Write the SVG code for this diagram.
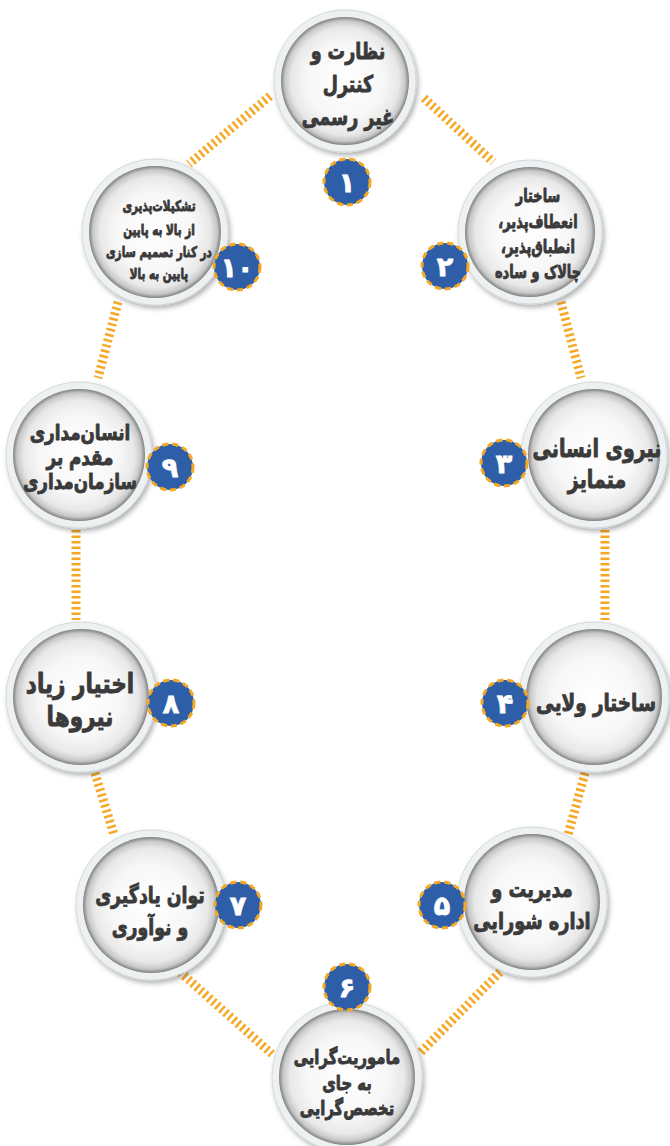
<svg xmlns="http://www.w3.org/2000/svg" width="670" height="1146" viewBox="0 0 670 1146">
<defs>
<radialGradient id="g" cx="0.5" cy="0.5" r="0.5">
<stop offset="0" stop-color="#ffffff"/>
<stop offset="0.6" stop-color="#f7f7f7"/>
<stop offset="0.84" stop-color="#e8e8e8"/>
<stop offset="0.94" stop-color="#c8c8c8"/>
<stop offset="1" stop-color="#808080"/>
</radialGradient>
<filter id="sh" x="-20%" y="-20%" width="140%" height="140%">
<feDropShadow dx="2" dy="3" stdDeviation="2.5" flood-color="#000" flood-opacity="0.3"/>
</filter>
<style>
.ring{fill:#eef1f2;stroke:#d3d8da;stroke-width:1;filter:url(#sh)}
.in{fill:url(#g)}
.t{font-family:"DejaVu Sans",sans-serif;font-weight:bold;fill:#3a3a3a;stroke:#3a3a3a;stroke-width:0.9;stroke-linejoin:round;text-anchor:middle}
.b{fill:#2e5ea8;stroke:#f7a823;stroke-width:3;stroke-dasharray:6 4}
.n{font-family:"DejaVu Sans",sans-serif;font-weight:bold;fill:#fff;stroke:#fff;stroke-width:0.8;text-anchor:middle;font-size:27px}
.c{stroke:#f7a823;stroke-width:9;stroke-dasharray:2.5 3;fill:none}
</style>
</defs>
<g id="connectors">
<line class="c" x1="270" y1="96" x2="189" y2="164"/>
<line class="c" x1="424" y1="98" x2="493" y2="162"/>
<line class="c" x1="118" y1="302" x2="98" y2="378"/>
<line class="c" x1="561" y1="302" x2="581" y2="378"/>
<line class="c" x1="76" y1="530" x2="76" y2="620"/>
<line class="c" x1="605" y1="530" x2="605" y2="620"/>
<line class="c" x1="95" y1="773" x2="114" y2="835"/>
<line class="c" x1="585" y1="773" x2="568" y2="835"/>
<line class="c" x1="180" y1="972" x2="272" y2="1054"/>
<line class="c" x1="500" y1="972" x2="420" y2="1053"/>
</g>
<g id="node1">
<circle class="ring" cx="345" cy="81" r="71"/><circle class="in" cx="345" cy="81" r="64"/>
<g transform="translate(348 0) scale(0.76 1)"><text class="t" font-size="23" direction="rtl"><tspan x="0" y="59">نظارت و</tspan><tspan x="0" y="92">کنترل</tspan><tspan x="0" y="125">غیر رسمی</tspan></text></g>
</g>
<g id="node2">
<circle class="ring" cx="530" cy="232" r="72"/><circle class="in" cx="530" cy="232" r="65"/>
<g transform="translate(538 0) scale(0.72 1)"><text class="t" font-size="18" direction="rtl"><tspan x="0" y="202">ساختار</tspan><tspan x="0" y="228">انعطاف‌پذیر،</tspan><tspan x="0" y="253">انطباق‌پذیر،</tspan><tspan x="0" y="278">چالاک و ساده</tspan></text></g>
</g>
<g id="node10">
<circle class="ring" cx="155" cy="232" r="73"/><circle class="in" cx="155" cy="232" r="66"/>
<g transform="translate(159 0) scale(0.72 1)"><text class="t" font-size="14.5" direction="rtl"><tspan x="0" y="211">تشکیلات‌پذیری</tspan><tspan x="0" y="235">از بالا به پایین</tspan><tspan x="0" y="257">در کنار تصمیم سازی</tspan><tspan x="0" y="279">پایین به بالا</tspan></text></g>
</g>
<g id="node3">
<circle class="ring" cx="594" cy="455" r="73"/><circle class="in" cx="594" cy="455" r="66"/>
<g transform="translate(597 0) scale(0.76 1)"><text class="t" font-size="25" direction="rtl"><tspan x="0" y="457">نیروی انسانی</tspan><tspan x="0" y="488">متمایز</tspan></text></g>
</g>
<g id="node9">
<circle class="ring" cx="79" cy="455" r="73"/><circle class="in" cx="79" cy="455" r="66"/>
<g transform="translate(80 0) scale(0.78 1)"><text class="t" font-size="21.5" direction="rtl"><tspan x="0" y="440">انسان‌مداری</tspan><tspan x="0" y="465">مقدم بر</tspan><tspan x="0" y="489">سازمان‌مداری</tspan></text></g>
</g>
<g id="node4">
<circle class="ring" cx="594" cy="697" r="75"/><circle class="in" cx="594" cy="697" r="68"/>
<g transform="translate(596 0) scale(0.78 1)"><text class="t" font-size="23.5" direction="rtl"><tspan x="0" y="711">ساختار ولایی</tspan></text></g>
</g>
<g id="node8">
<circle class="ring" cx="81" cy="697" r="75"/><circle class="in" cx="81" cy="697" r="68"/>
<g transform="translate(80 0) scale(0.8 1)"><text class="t" font-size="27" direction="rtl"><tspan x="0" y="693">اختیار زیاد</tspan><tspan x="0" y="726">نیروها</tspan></text></g>
</g>
<g id="node5">
<circle class="ring" cx="532" cy="902" r="75"/><circle class="in" cx="532" cy="902" r="68"/>
<g transform="translate(532 0) scale(0.77 1)"><text class="t" font-size="23" direction="rtl"><tspan x="0" y="897">مدیریت و</tspan><tspan x="0" y="929">اداره شورایی</tspan></text></g>
</g>
<g id="node7">
<circle class="ring" cx="151" cy="905" r="75"/><circle class="in" cx="151" cy="905" r="68"/>
<g transform="translate(150 0) scale(0.77 1)"><text class="t" font-size="22.5" direction="rtl"><tspan x="0" y="903">توان یادگیری</tspan><tspan x="0" y="935">و نوآوری</tspan></text></g>
</g>
<g id="node6">
<circle class="ring" cx="347" cy="1077" r="75"/><circle class="in" cx="347" cy="1077" r="68"/>
<g transform="translate(347 0) scale(0.76 1)"><text class="t" font-size="19.5" direction="rtl"><tspan x="0" y="1064">ماموریت‌گرایی</tspan><tspan x="0" y="1090">به جای</tspan><tspan x="0" y="1115">تخصص‌گرایی</tspan></text></g>
</g>
<g id="badges">
<g id="badge1"><circle class="b" cx="347" cy="182" r="23"/><text class="n" x="347" y="192">۱</text></g>
<g id="badge2"><circle class="b" cx="445" cy="266" r="23"/><text class="n" x="445" y="276">۲</text></g>
<g id="badge10"><circle class="b" cx="237" cy="267" r="23"/><text class="n" x="237" y="277" font-size="23">۱۰</text></g>
<g id="badge3"><circle class="b" cx="504" cy="463" r="23"/><text class="n" x="504" y="473">۳</text></g>
<g id="badge9"><circle class="b" cx="170" cy="467" r="23"/><text class="n" x="170" y="477">۹</text></g>
<g id="badge4"><circle class="b" cx="505" cy="703" r="23"/><text class="n" x="505" y="713">۴</text></g>
<g id="badge8"><circle class="b" cx="171" cy="703" r="23"/><text class="n" x="171" y="713">۸</text></g>
<g id="badge5"><circle class="b" cx="442" cy="905" r="23"/><text class="n" x="442" y="915">۵</text></g>
<g id="badge7"><circle class="b" cx="238" cy="905" r="23"/><text class="n" x="238" y="915">۷</text></g>
<g id="badge6"><circle class="b" cx="347" cy="987" r="23"/><text class="n" x="347" y="997">۶</text></g>
</g>
</svg>
